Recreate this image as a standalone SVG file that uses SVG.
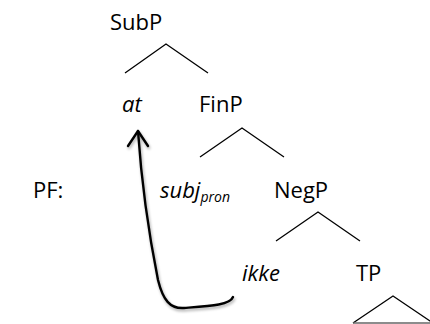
<svg xmlns="http://www.w3.org/2000/svg" width="430" height="324" viewBox="0 0 430 324">
<style>
text{font-family:"Open Sans","Noto Sans","Liberation Sans",sans-serif;font-size:22px;fill:#000}
.i{font-style:italic}
.e{stroke:#000;stroke-width:1.3;fill:none}
.arc{stroke:#000;stroke-width:2.4;fill:none;stroke-linecap:round;stroke-linejoin:round}
</style>
<defs>
<filter id="sh" x="-20%" y="-20%" width="140%" height="140%">
<feGaussianBlur in="SourceAlpha" stdDeviation="1.5"/>
<feOffset dx="1" dy="2" result="b"/>
<feComponentTransfer><feFuncA type="linear" slope="0.35"/></feComponentTransfer>
<feMerge><feMergeNode/><feMergeNode in="SourceGraphic"/></feMerge>
</filter>
</defs>
<g id="SubP"><text x="110" y="30">SubP</text></g>
<g id="at"><text class="i" x="122" y="112">at</text></g>
<g id="FinP"><text x="199" y="112">FinP</text></g>
<g id="PF"><text x="33" y="198">PF:</text></g>
<g id="subj"><text class="i" x="160" y="198">subj<tspan font-size="14" dy="4">pron</tspan></text></g>
<g id="NegP"><text x="274" y="198">NegP</text></g>
<g id="ikke"><text class="i" x="242" y="281">ikke</text></g>
<g id="TP"><text x="356" y="281">TP</text></g>
<g id="connectors">
<path class="e" d="M125,73 L166,44 L208,73"/>
<path class="e" d="M200,157 L242,128 L284,157"/>
<path class="e" d="M276,241 L318,212 L360,241"/>
<path class="e" d="M353,323 L393,296 L433,323"/>
<line x1="353" y1="323" x2="430" y2="323" stroke="#666" stroke-width="1.3"/>
<g filter="url(#sh)">
<path class="arc" d="M233,297 C230,305 210,306 184,308 C170,309 163,300 158,280 C150,240 142,190 138,131"/>
<path class="arc" d="M128,146 L138,131 L148,146"/>
</g>
</g>
</svg>
